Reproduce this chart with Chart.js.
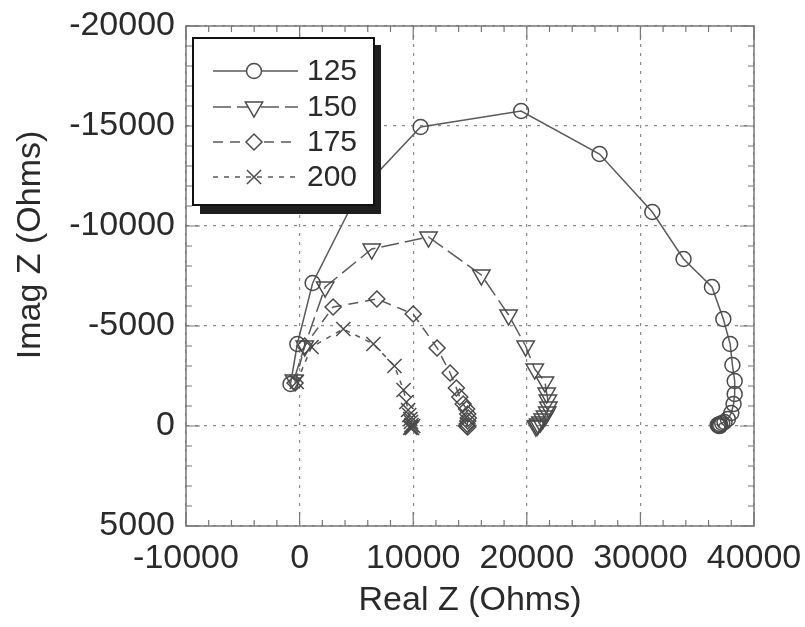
<!DOCTYPE html>
<html>
<head>
<meta charset="utf-8">
<script src="https://cdn.jsdelivr.net/npm/chart.js@4.4.0/dist/chart.umd.min.js"></script>
<style>
  html, body { margin: 0; padding: 0; background: #fff; }
  #wrap { width: 805px; height: 627px; }
</style>
</head>
<body>
<div id="wrap"><canvas id="nyquist" width="805" height="627"></canvas></div>
<script>
// temperatures (legend labels)
const seriesNames = ['125', '150', '175', '200'];

// Real Z / Imag Z (Ohms)
const re125 = [-800, -200, 1150, 5100, 10650, 19500, 26400, 31050, 33800, 36300, 37300, 37900, 38100, 38300, 38300, 38200, 38000, 37700, 37400, 37200, 37000, 36900, 36800, 36900, 37000];
const im125 = [-2100, -4100, -7150, -11600, -14950, -15750, -13600, -10700, -8350, -6950, -5350, -4100, -3050, -2250, -1600, -1100, -650, -350, -200, -150, -100, -50, -50, 0, 0];

const re150 = [-500, 450, 2250, 6350, 11350, 16000, 18400, 19900, 20700, 21600, 21750, 21850, 21900, 21800, 21600, 21400, 21200, 21000, 20900, 20800];
const im150 = [-2300, -4000, -6950, -8850, -9450, -7550, -5550, -4000, -2850, -2200, -1650, -1300, -950, -700, -500, -350, -200, -100, -30, 0];

const re175 = [-400, 450, 2950, 6800, 10000, 12100, 13250, 13800, 14100, 14400, 14700, 14800, 14850, 14800, 14750, 14700, 14800];
const im175 = [-2150, -4000, -5950, -6350, -5600, -3900, -2650, -1900, -1450, -1100, -850, -600, -400, -250, -100, 0, 50];

const re200 = [-250, 1050, 3850, 6500, 8350, 9150, 9400, 9550, 9650, 9750, 9800, 9850, 9800, 9900, 10000, 9750];
const im200 = [-2200, -3950, -4850, -4100, -3000, -1800, -1200, -800, -550, -350, -200, -50, 50, 100, 0, 100];

const xTicks = [-10000, 0, 10000, 20000, 30000, 40000];
const yTicks = [-20000, -15000, -10000, -5000, 0, 5000];

const toPoints = (xs, ys) => xs.map((x, i) => ({ x: x, y: ys[i] }));

const ink = '#2a2a2a';
const lineGray = '#5a5a5a';
const fontFam = '"Liberation Sans", Arial, Helvetica, sans-serif';

const styles = [
  { pointStyle: 'circle', radius: 7.5, rotation: 0, dash: [] },
  { pointStyle: 'triangle', radius: 10, rotation: 180, dash: [18, 6] },
  { pointStyle: 'rectRot', radius: 8, rotation: 0, dash: [10, 7] },
  { pointStyle: 'crossRot', radius: 10, rotation: 0, dash: [5, 6] }
];

const allData = [toPoints(re125, im125), toPoints(re150, im150), toPoints(re175, im175), toPoints(re200, im200)];

const datasets = allData.map((pts, i) => ({
  label: seriesNames[i],
  data: pts,
  showLine: true,
  borderColor: lineGray,
  borderWidth: 1.5,
  borderDash: styles[i].dash,
  pointStyle: styles[i].pointStyle,
  pointRadius: styles[i].radius,
  pointRotation: styles[i].rotation,
  pointBorderColor: '#4a4a4a',
  pointBackgroundColor: 'rgba(0,0,0,0)',
  pointBorderWidth: 1.5,
  tension: 0
}));

// frame with inward major/minor ticks on all four sides
const frameTicks = {
  id: 'frameTicks',
  beforeDatasetsDraw(chart) {
    const { ctx, chartArea: a, scales } = chart;
    ctx.save();
    ctx.strokeStyle = '#777';
    ctx.lineWidth = 1.5;
    ctx.setLineDash([]);
    ctx.strokeRect(a.left, a.top, a.right - a.left, a.bottom - a.top);
    ctx.lineWidth = 1.2;
    ctx.beginPath();
    for (let v = -10000; v <= 40000; v += 2000) {
      const px = scales.x.getPixelForValue(v);
      const len = v % 10000 === 0 ? 14 : 6;
      ctx.moveTo(px, a.bottom); ctx.lineTo(px, a.bottom - len);
      ctx.moveTo(px, a.top); ctx.lineTo(px, a.top + len);
    }
    for (let v = -20000; v <= 5000; v += 1000) {
      const py = scales.y.getPixelForValue(v);
      const len = v % 5000 === 0 ? 14 : 6;
      ctx.moveTo(a.left, py); ctx.lineTo(a.left + len, py);
      ctx.moveTo(a.right, py); ctx.lineTo(a.right - len, py);
    }
    ctx.stroke();
    ctx.restore();
  },
  afterDraw(chart) {
    // y title sits a bit above the axis middle in the original
    const ctx = chart.ctx;
    ctx.save();
    ctx.translate(31, 245);
    ctx.rotate(-Math.PI / 2);
    ctx.font = '34px ' + fontFam;
    ctx.fillStyle = ink;
    ctx.textAlign = 'center';
    ctx.textBaseline = 'middle';
    ctx.fillText('Imag Z (Ohms)', 0, 0);
    ctx.restore();
  }
};

// boxed legend with drop shadow, drawn over the lines
const boxLegend = {
  id: 'boxLegend',
  afterDatasetsDraw(chart) {
    const ctx = chart.ctx;
    const bx = 193, by = 38, bw = 181, bh = 167, sh = 7;
    ctx.save();
    ctx.fillStyle = '#1e1e1e';
    ctx.fillRect(bx + sh, by + sh, bw, bh + 2);
    ctx.fillStyle = '#fff';
    ctx.fillRect(bx, by, bw, bh);
    ctx.strokeStyle = '#111';
    ctx.lineWidth = 2;
    ctx.strokeRect(bx, by, bw, bh);

    const rows = [71, 107, 142, 177];
    ctx.font = '30px ' + fontFam;
    ctx.textBaseline = 'middle';
    rows.forEach((ry, i) => {
      const s = styles[i];
      ctx.strokeStyle = lineGray;
      ctx.lineWidth = 1.5;
      ctx.setLineDash(s.dash);
      ctx.beginPath();
      ctx.moveTo(213, ry);
      ctx.lineTo(298, ry);
      ctx.stroke();
      ctx.setLineDash([]);
      ctx.strokeStyle = '#4a4a4a';
      ctx.fillStyle = '#fff';
      Chart.helpers.drawPoint(ctx, {
        pointStyle: s.pointStyle,
        radius: s.radius,
        rotation: s.rotation,
        borderWidth: 1.5
      }, 254, ry);
      ctx.fillStyle = ink;
      ctx.fillText(seriesNames[i], 307, ry + 1);
    });
    ctx.restore();
  }
};

new Chart(document.getElementById('nyquist'), {
  type: 'scatter',
  data: { datasets: datasets },
  options: {
    responsive: false,
    animation: false,
    layout: { padding: { top: 26, right: 51, left: 0, bottom: 0 } },
    plugins: { legend: { display: false }, tooltip: { enabled: false } },
    scales: {
      x: {
        type: 'linear',
        min: -10000,
        max: 40000,
        afterBuildTicks: s => { s.ticks = xTicks.map(v => ({ value: v })); },
        afterFit: s => { s.height = 101; s.paddingLeft = 0; s.paddingRight = 0; },
        grid: { color: '#8a8a8a', lineWidth: 1.2, drawTicks: false },
        border: { display: false, dash: [3, 6] },
        ticks: {
          autoSkip: false,
          maxRotation: 0,
          padding: 12,
          color: ink,
          font: { family: fontFam, size: 34 },
          callback: v => String(v)
        },
        title: {
          display: true,
          text: 'Real Z (Ohms)',
          color: ink,
          font: { family: fontFam, size: 34 },
          padding: { top: 0, bottom: 6 }
        }
      },
      y: {
        type: 'linear',
        reverse: true,
        min: -20000,
        max: 5000,
        afterBuildTicks: s => { s.ticks = yTicks.map(v => ({ value: v })); },
        afterFit: s => { s.width = 186; s.paddingTop = 0; s.paddingBottom = 0; },
        grid: { color: '#8a8a8a', lineWidth: 1.2, drawTicks: false },
        border: { display: false, dash: [3, 6] },
        ticks: {
          padding: 11,
          color: ink,
          font: { family: fontFam, size: 34 },
          callback: v => String(v)
        }
      }
    }
  },
  plugins: [frameTicks, boxLegend]
});
</script>
</body>
</html>
